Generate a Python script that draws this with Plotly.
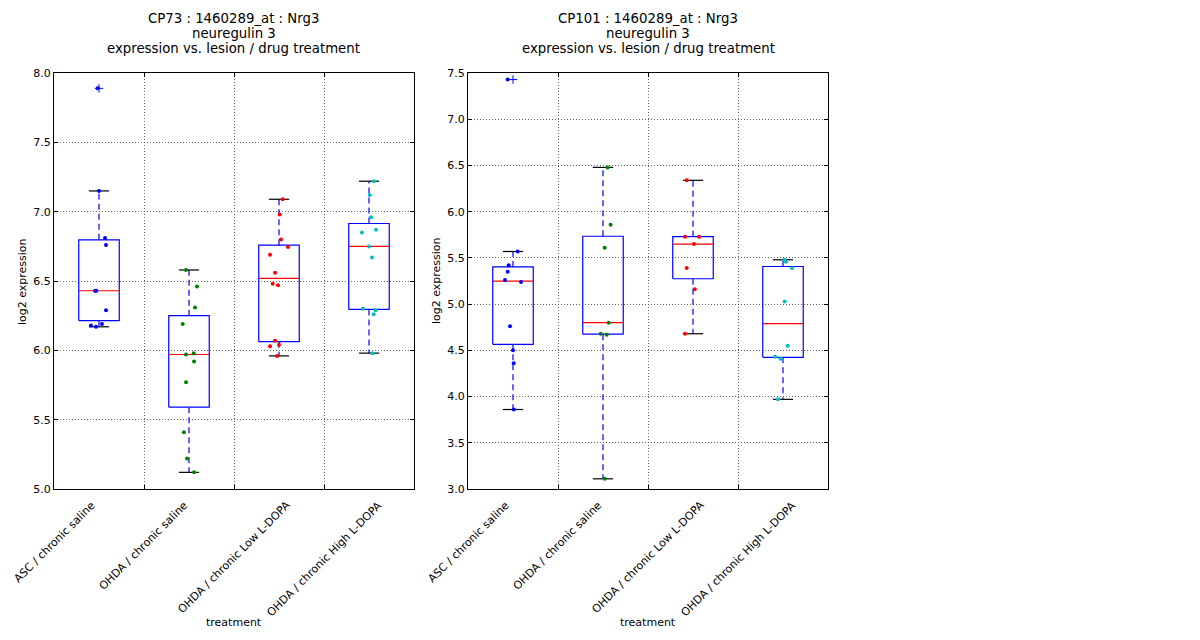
import numpy as np
import plotly.graph_objects as go

categories = [
    "ASC / chronic saline",
    "OHDA / chronic saline",
    "OHDA / chronic Low L-DOPA",
    "OHDA / chronic High L-DOPA",
]
group_colors = ["#0000ff", "#008000", "#ff0000", "#00bfbf"]

# CP73 log2 expression per group, plus the horizontal jitter seen in the picture
cp73_asc_saline = [7.89, 7.15, 6.81, 6.76, 6.43, 6.43, 6.29, 6.18, 6.17, 6.19]
cp73_asc_saline_jit = [-0.015, 0.0, 0.067, 0.078, -0.044, -0.03, 0.078, -0.089, -0.033, 0.033]
cp73_ohda_saline = [6.58, 6.46, 6.31, 6.19, 5.97, 5.98, 5.92, 5.77, 5.41, 5.22, 5.12]
cp73_ohda_saline_jit = [-0.033, 0.089, 0.067, -0.07, -0.033, 0.052, 0.056, -0.033, -0.056, -0.022, 0.056]
cp73_ohda_low = [7.09, 6.98, 6.80, 6.745, 6.69, 6.56, 6.48, 6.47, 6.07, 6.04, 6.03, 5.96]
cp73_ohda_low_jit = [0.041, 0.008, 0.022, 0.1, -0.1, -0.044, -0.07, -0.011, -0.044, 0.0, -0.1, -0.022]
cp73_ohda_high = [7.22, 7.12, 6.96, 6.87, 6.85, 6.75, 6.67, 6.30, 6.29, 6.26, 5.98]
cp73_ohda_high_jit = [0.056, 0.008, 0.022, 0.078, -0.078, 0.0, 0.033, -0.067, 0.074, 0.052, 0.041]

# CP101
cp101_asc_saline = [7.43, 5.57, 5.42, 5.35, 5.26, 5.24, 4.76, 4.50, 4.36, 3.86]
cp101_asc_saline_jit = [-0.059, 0.052, -0.048, -0.059, -0.089, 0.089, -0.033, 0.0, 0.008, 0.008]
cp101_ohda_saline = [6.48, 5.86, 5.61, 4.80, 4.68, 4.67, 3.11]
cp101_ohda_saline_jit = [0.052, 0.085, 0.019, 0.063, -0.026, 0.041, 0.019]
cp101_ohda_low = [6.34, 5.73, 5.73, 5.65, 5.39, 5.16, 4.68]
cp101_ohda_low_jit = [-0.07, -0.089, 0.067, 0.011, -0.07, 0.019, -0.089]
cp101_ohda_high = [5.48, 5.46, 5.39, 5.03, 4.55, 4.43, 4.41, 3.97]
cp101_ohda_high_jit = [0.015, 0.033, 0.1, 0.019, 0.052, -0.089, -0.026, -0.056]

panels = [
    dict(
        title=["CP73 : 1460289_at : Nrg3", "neuregulin 3", "expression vs. lesion / drug treatment"],
        groups=[cp73_asc_saline, cp73_ohda_saline, cp73_ohda_low, cp73_ohda_high],
        jitter=[cp73_asc_saline_jit, cp73_ohda_saline_jit, cp73_ohda_low_jit, cp73_ohda_high_jit],
        yrange=[5.0, 8.0],
    ),
    dict(
        title=["CP101 : 1460289_at : Nrg3", "neuregulin 3", "expression vs. lesion / drug treatment"],
        groups=[cp101_asc_saline, cp101_ohda_saline, cp101_ohda_low, cp101_ohda_high],
        jitter=[cp101_asc_saline_jit, cp101_ohda_saline_jit, cp101_ohda_low_jit, cp101_ohda_high_jit],
        yrange=[3.0, 7.5],
    ),
]

W, H = 1200, 640
FONT = "DejaVu Sans"
x_domains = [[54 / W, 414 / W], [468 / W, 828 / W]]
y_domain = [1 - 493 / H, 1 - 68.5 / H]
half_box = 0.225
half_cap = 0.1125
title_rows = [13, 28, 43.3]
label_top = 500.3
xlabel_row = 629.5

fig = go.Figure()


def seg(xs, ys, x0, x1, y):
    xs += [x0, x1, None]
    ys += [y, y, None]


for k, panel in enumerate(panels):
    xa = "x" if k == 0 else "x2"
    ya = "y" if k == 0 else "y2"
    box_x, box_y, med_x, med_y = [], [], [], []
    wh_x, wh_y, cap_x, cap_y = [], [], [], []
    fl_x, fl_y = [], []
    for i, vals in enumerate(panel["groups"]):
        pos = i + 1
        v = np.array(vals)
        q1, med, q3 = np.percentile(v, [25, 50, 75])
        iqr = q3 - q1
        hi = v[v <= q3 + 1.5 * iqr].max()
        lo = v[v >= q1 - 1.5 * iqr].min()
        out = v[(v > q3 + 1.5 * iqr) | (v < q1 - 1.5 * iqr)]
        box_x += [pos - half_box, pos + half_box, pos + half_box, pos - half_box, pos - half_box, None]
        box_y += [q1, q1, q3, q3, q1, None]
        seg(med_x, med_y, pos - half_box, pos + half_box, med)
        wh_x += [pos, pos, None, pos, pos, None]
        wh_y += [q3, hi, None, q1, lo, None]
        seg(cap_x, cap_y, pos - half_cap, pos + half_cap, hi)
        seg(cap_x, cap_y, pos - half_cap, pos + half_cap, lo)
        fl_x += [pos] * len(out)
        fl_y += list(out)

    common = dict(xaxis=xa, yaxis=ya, showlegend=False, hoverinfo="skip")
    fig.add_trace(go.Scatter(x=wh_x, y=wh_y, mode="lines",
                             line=dict(color="#0000ff", width=1.2, dash="6px,4px"), **common))
    fig.add_trace(go.Scatter(x=box_x, y=box_y, mode="lines",
                             line=dict(color="#0000ff", width=1.2), **common))
    fig.add_trace(go.Scatter(x=med_x, y=med_y, mode="lines",
                             line=dict(color="#ff0000", width=1.2), **common))
    fig.add_trace(go.Scatter(x=cap_x, y=cap_y, mode="lines",
                             line=dict(color="black", width=1.2), **common))
    fig.add_trace(go.Scatter(x=fl_x, y=fl_y, mode="markers",
                             marker=dict(symbol="cross-thin", size=6,
                                         line=dict(color="#0000ff", width=1)), **common))
    for i, vals in enumerate(panel["groups"]):
        xs = [i + 1 + j for j in panel["jitter"][i]]
        fig.add_trace(go.Scatter(x=xs, y=vals, mode="markers",
                                 marker=dict(color=group_colors[i], size=4), **common))

    # tick labels sit at the half positions, centred, rotated 45 degrees
    for j, cat in enumerate(categories):
        fig.add_annotation(x=j + 0.5, y=1 - label_top / H, xref=xa, yref="paper",
                           text=cat, textangle=-45, showarrow=False,
                           xanchor="center", yanchor="top",
                           font=dict(family=FONT, size=11, color="black"))
    xc = (x_domains[k][0] + x_domains[k][1]) / 2
    fig.add_annotation(x=xc, y=1 - xlabel_row / H, xref="paper", yref="paper",
                       text="treatment", showarrow=False,
                       xanchor="center", yanchor="middle",
                       font=dict(family=FONT, size=11, color="black"))
    fig.add_annotation(x=x_domains[k][0] - 32 / W, y=(y_domain[0] + y_domain[1]) / 2,
                       xref="paper", yref="paper", text="log2 expression",
                       textangle=-90, showarrow=False,
                       xanchor="center", yanchor="middle",
                       font=dict(family=FONT, size=11, color="black"))
    for line, row in zip(panel["title"], title_rows):
        fig.add_annotation(x=xc, y=1 - row / H, xref="paper", yref="paper",
                           text=line, showarrow=False,
                           xanchor="center", yanchor="middle",
                           font=dict(family=FONT, size=13.3, color="black"))

axis_common = dict(showline=True, linecolor="black", linewidth=1, mirror="ticks",
                   ticks="inside", ticklen=4, tickcolor="black", zeroline=False,
                   showgrid=True, gridcolor="#666666", griddash="1px,2px", gridwidth=1,
                   tickfont=dict(family=FONT, size=11, color="black"))

fig.update_layout(
    width=W, height=H, autosize=False,
    margin=dict(l=0, r=0, t=0, b=0),
    paper_bgcolor="white", plot_bgcolor="white",
    xaxis=dict(domain=x_domains[0], anchor="y", range=[0.5, 4.5],
               tickvals=[0.5, 1.5, 2.5, 3.5], showticklabels=False, **axis_common),
    yaxis=dict(domain=y_domain, anchor="x", range=panels[0]["yrange"],
               dtick=0.5, tickformat=".1f", **axis_common),
    xaxis2=dict(domain=x_domains[1], anchor="y2", range=[0.5, 4.5],
                tickvals=[0.5, 1.5, 2.5, 3.5], showticklabels=False, **axis_common),
    yaxis2=dict(domain=y_domain, anchor="x2", range=panels[1]["yrange"],
                dtick=0.5, tickformat=".1f", **axis_common),
)

page_fix = (
    "document.documentElement.style.margin='0px';"
    "document.body.style.margin='0px';"
    "document.documentElement.style.overflow='hidden';"
    "document.body.style.overflow='hidden';"
)
fig.write_html("out.html", config={"displayModeBar": False}, post_script=page_fix)
